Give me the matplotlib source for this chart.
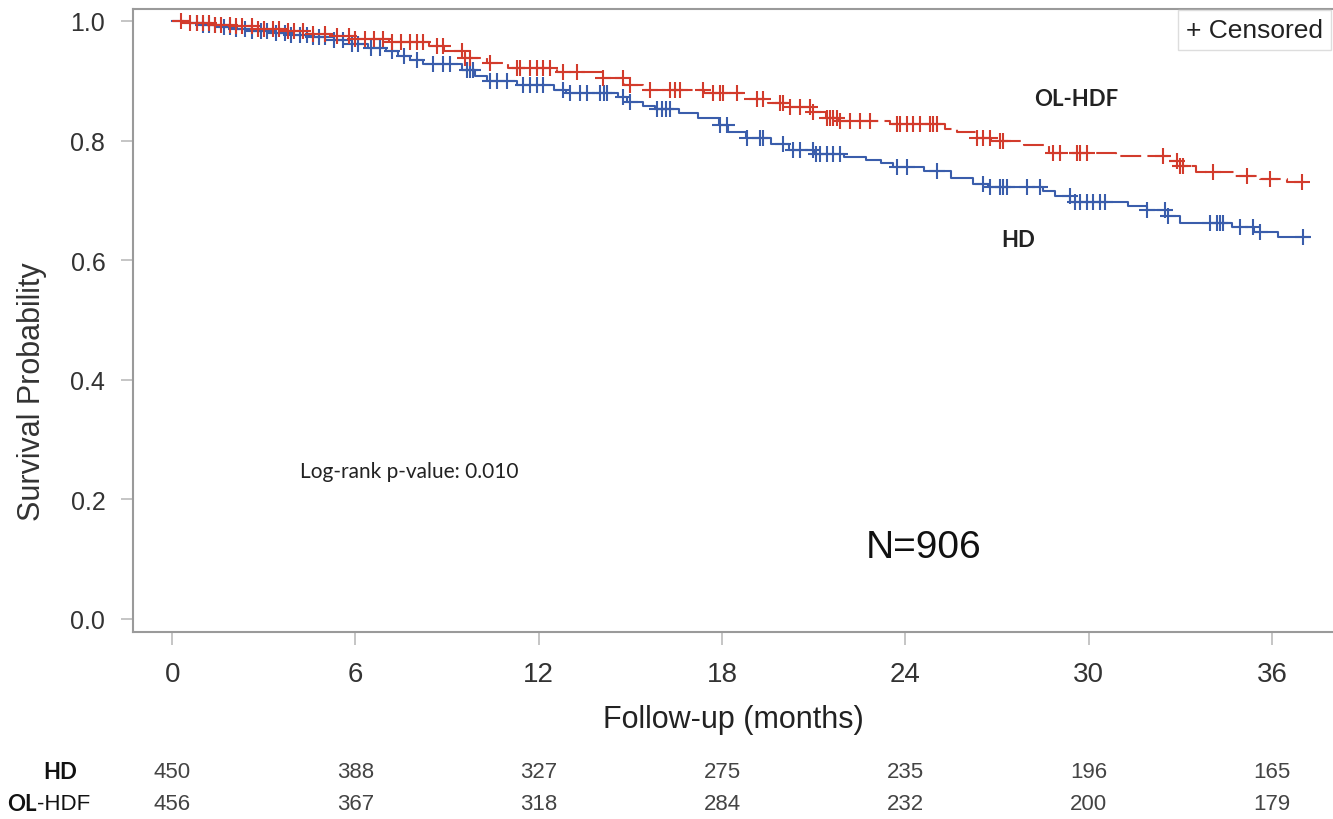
import matplotlib.pyplot as plt
import matplotlib.transforms as mtransforms
import numpy as np

# Kaplan-Meier steps: event times (months) and survival after each step
hd_time = [0, 0.4, 0.9, 1.5, 2.0, 2.6, 3.2, 3.9, 4.5, 5.3, 5.9, 6.4, 7.0, 7.4, 7.8, 8.2,
           9.5, 9.9, 10.3, 11.3, 12.5, 12.9, 14.6, 14.9, 15.4, 15.8, 16.6, 17.2, 17.9,
           18.2, 18.8, 19.6, 20.2, 21.0, 22.0, 22.7, 23.2, 23.6, 24.6, 25.5, 26.2, 26.7,
           28.5, 28.9, 29.4, 31.3, 31.9, 32.6, 33.0, 34.7, 35.4, 36.2, 37.2]
hd_surv = [1.0, 0.997, 0.993, 0.990, 0.986, 0.983, 0.980, 0.977, 0.973, 0.968, 0.962,
           0.955, 0.950, 0.942, 0.935, 0.928, 0.918, 0.908, 0.900, 0.893, 0.885, 0.879,
           0.872, 0.865, 0.858, 0.853, 0.846, 0.838, 0.826, 0.815, 0.805, 0.795, 0.785,
           0.778, 0.772, 0.768, 0.762, 0.756, 0.749, 0.738, 0.728, 0.722, 0.716, 0.707,
           0.698, 0.690, 0.684, 0.674, 0.662, 0.656, 0.647, 0.639, 0.639]

hdf_time = [0, 0.6, 1.3, 2.0, 2.8, 3.6, 4.4, 5.2, 6.0, 7.1, 8.4, 8.9, 9.6, 10.3, 11.0,
            12.6, 14.1, 14.8, 15.4, 17.4, 18.7, 19.5, 20.2, 20.9, 21.4, 21.8, 23.5, 25.3,
            25.7, 26.3, 26.8, 27.9, 28.7, 30.9, 32.6, 33.0, 33.5, 34.8, 35.6, 36.5, 37.2]
hdf_surv = [1.0, 0.997, 0.994, 0.991, 0.987, 0.983, 0.979, 0.975, 0.970, 0.964, 0.958,
            0.950, 0.938, 0.929, 0.921, 0.915, 0.905, 0.893, 0.884, 0.880, 0.870, 0.862,
            0.856, 0.848, 0.838, 0.833, 0.828, 0.820, 0.814, 0.805, 0.799, 0.792, 0.779,
            0.774, 0.766, 0.757, 0.748, 0.740, 0.736, 0.731, 0.731]

# censoring times (months)
hd_cens = [0.8, 1.0, 1.2, 1.4, 1.7, 1.9, 2.1, 2.4, 2.6, 2.9, 3.1, 3.4, 3.7, 3.9, 4.2,
           4.4, 4.6, 4.8, 5.0, 5.3, 5.6, 5.9, 6.1, 6.5, 6.8, 7.2, 7.6, 8.0,
           8.54, 8.87, 9.10, 9.66, 9.75, 9.85, 10.41, 10.64, 10.97, 11.49, 11.72, 11.95,
           12.14, 12.80, 13.03, 13.36, 13.59, 14.01, 14.14, 14.24, 14.76, 14.99, 15.88,
           16.04, 16.17, 16.30, 17.94, 18.17, 18.82, 19.25, 19.35, 20.0, 20.33, 20.56,
           20.98, 21.08, 21.21, 21.44, 21.64, 21.87, 23.73, 24.06, 25.04, 26.55, 26.78,
           27.10, 27.2, 27.33, 27.99, 28.41, 29.39, 29.56, 29.72, 29.95, 30.15, 30.38,
           30.54, 31.92, 32.5, 32.6, 33.98, 34.21, 34.3, 34.4, 34.96, 35.38, 35.61, 37.02]
hdf_cens = [0.3, 0.6, 0.8, 1.0, 1.2, 1.4, 1.6, 1.9, 2.1, 2.3, 2.6, 2.8, 3.0, 3.3, 3.5,
            3.8, 4.0, 4.3, 4.6, 5.0, 5.4, 5.8, 6.0, 6.3, 6.6, 6.9, 7.2, 7.5, 7.8, 8.0,
            8.2, 8.67, 8.87, 9.5, 9.6, 9.75, 10.4, 11.3, 11.4, 11.7, 11.95, 12.14, 12.37,
            12.8, 13.26, 14.1, 14.76, 14.99, 15.65, 16.3, 16.46, 16.63, 17.38, 17.7,
            17.94, 18.04, 18.49, 19.15, 19.35, 19.9, 20.0, 20.23, 20.56, 20.88, 20.98,
            21.44, 21.55, 21.64, 21.76, 21.87, 22.19, 22.52, 22.85, 23.73, 23.84, 24.06,
            24.26, 24.48, 24.81, 24.91, 25.04, 26.35, 26.55, 26.78, 27.1, 27.2, 28.84,
            29.07, 29.62, 29.72, 29.95, 32.44, 32.9, 33.0, 33.1, 34.08, 35.19, 35.94,
            36.99]

risk_months = [0, 6, 12, 18, 24, 30, 36]
hd_risk = [450, 388, 327, 275, 235, 196, 165]
hdf_risk = [456, 367, 318, 284, 232, 200, 179]

blue = '#3A5DAB'
red = '#D23B2C'
grey = '#9A9A9A'
sans = ['Liberation Sans', 'DejaVu Sans']
calib = ['Lato', 'DejaVu Sans']


def at(times, surv, t):
    i = np.searchsorted(times, t, side='right') - 1
    return np.array(surv)[i]


fig = plt.figure(figsize=(13.33, 8.2), dpi=100)
ax = fig.add_axes([0.0998, 0.228, 0.9002, 0.7598])

ax.plot(hd_time, hd_surv, drawstyle='steps-post', color=blue, lw=1.5)
ax.plot(hdf_time, hdf_surv, drawstyle='steps-post', color=red, lw=1.5,
        linestyle=(0, (10, 3)))
ax.plot(hd_cens, at(hd_time, hd_surv, hd_cens), '+', color=blue, ms=12, mew=1.5)
ax.plot(hdf_cens, at(hdf_time, hdf_surv, hdf_cens), '+', color=red, ms=12, mew=1.5)

ax.set_xlim(-1.28, 38.0)
ax.set_ylim(-0.022, 1.02)
ax.set_xticks(risk_months)
ax.set_yticks([0.0, 0.2, 0.4, 0.6, 0.8, 1.0])
ax.set_yticklabels(['0.0', '0.2', '0.4', '0.6', '0.8', '1.0'])
for s in ['left', 'bottom', 'top']:
    ax.spines[s].set_color(grey)
    ax.spines[s].set_linewidth(1.5)
ax.spines['right'].set_visible(False)
ax.tick_params(axis='both', direction='out', length=9, width=1.2, color='#BBBBBB',
               labelcolor='#333333')
ax.tick_params(axis='x', pad=12, labelsize=20)
ax.tick_params(axis='y', pad=11, labelsize=18)
for lab in ax.get_xticklabels() + ax.get_yticklabels():
    lab.set_family(sans)

ax.set_xlabel('Follow-up (months)', family=sans, fontsize=22, color='#222222',
              labelpad=12)
ax.set_ylabel('Survival Probability', family=sans, fontsize=22, color='#333333')
ax.yaxis.set_label_coords(-0.072, 0.387)

ax.text(29.6, 0.87, 'OL-HDF', family=calib, weight='bold',
        fontsize=16, ha='center', va='center', color='#222222')
ax.text(27.7, 0.635, 'HD', family=calib, weight='bold',
        fontsize=16, ha='center', va='center', color='#222222')
ax.text(4.2, 0.247, 'Log-rank p-value: 0.010', family=calib,
        fontsize=15, ha='left', va='center', color='#222222')
ax.text(22.7, 0.12, 'N=906', family=sans,
        fontsize=28, ha='left', va='center', color='#111111')
ax.text(0.992, 0.985, '+ Censored', transform=ax.transAxes,
        family=sans, fontsize=19, ha='right', va='top', color='#222222',
        bbox=dict(boxstyle='square,pad=0.3', fc='white', ec='#DDDDDD', lw=1))

# number at risk table below the axis
trans = mtransforms.blended_transform_factory(ax.transData, fig.transFigure)
for m, a, b in zip(risk_months, hd_risk, hdf_risk):
    ax.text(m, 1 - 773 / 820, str(a), transform=trans, ha='center', va='center',
            family=sans, fontsize=16, color='#444444')
    ax.text(m, 1 - 805 / 820, str(b), transform=trans, ha='center', va='center',
            family=sans, fontsize=16, color='#444444')
fig.text(77 / 1333, 1 - 773 / 820, 'HD', ha='right', va='center', family=calib,
         weight='bold', fontsize=16, color='#111111')
fig.text(37 / 1333, 1 - 805 / 820, 'OL', ha='right', va='center', family=calib,
         weight='bold', fontsize=16, color='#111111')
fig.text(37 / 1333, 1 - 805 / 820, '-HDF', ha='left', va='center', family=sans,
         fontsize=16, color='#111111')

fig.savefig('out.png', dpi=100)
